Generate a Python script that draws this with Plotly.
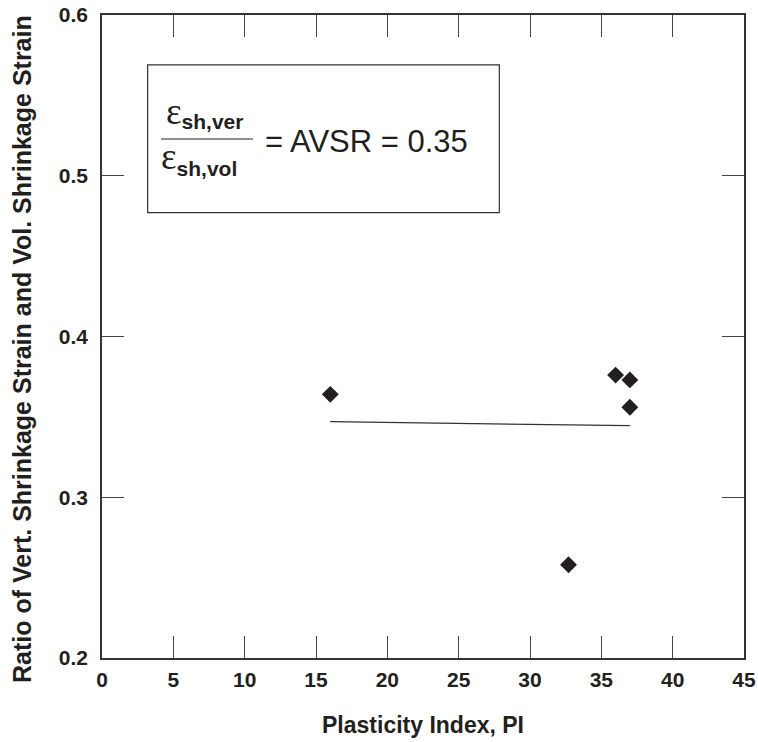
import plotly.graph_objects as go

# Data
pi_values = [16.0, 36.0, 37.0, 37.0, 32.7]
avsr_values = [0.364, 0.376, 0.373, 0.356, 0.258]
fit_x = [16.0, 37.0]
fit_y = [0.347, 0.3445]
x_ticks = [0, 5, 10, 15, 20, 25, 30, 35, 40, 45]
y_ticks = [0.2, 0.3, 0.4, 0.5, 0.6]
x_title = "Plasticity Index, PI"
y_title = "Ratio of Vert. Shrinkage Strain and Vol. Shrinkage Strain"
box_x = [3.2, 27.85]
box_y = [0.477, 0.569]

W, H = 758, 742
ML, MR, MT, MB = 102, 14, 15, 84
PW, PH = W - ML - MR, H - MT - MB


def paper(px, py):
    return (px - ML) / PW, 1 - (py - MT) / PH


SANS = "Liberation Sans, Arial, sans-serif"
DARK = "#231f20"

fig = go.Figure()
fig.add_trace(go.Scatter(x=fit_x, y=fit_y, mode="lines",
                         line=dict(color="#333333", width=1.2), showlegend=False))
fig.add_trace(go.Scatter(x=pi_values, y=avsr_values, mode="markers",
                         marker=dict(symbol="diamond", size=13, color=DARK,
                                     line=dict(width=0)),
                         showlegend=False))

# box around equation
fig.add_shape(type="rect", xref="x", yref="y", x0=box_x[0], x1=box_x[1],
              y0=box_y[0], y1=box_y[1], line=dict(color="#333333", width=1.2),
              fillcolor="white", layer="below")

annos = []


def add_text(text, px, py, size, family, bold=False, xanchor="left", angle=0):
    xp, yp = paper(px, py)
    annos.append(dict(text=text, x=xp, y=yp, xref="paper", yref="paper",
                      xanchor=xanchor, yanchor="middle", showarrow=False,
                      borderpad=0, textangle=angle, align="left",
                      font=dict(size=size, family=family, color=DARK,
                                weight="bold" if bold else "normal")))


EPS = '<span style="font-family:Liberation Serif;font-size:37px">ε</span>'


def sub(s, shift):
    return ('<span style="font-size:21px;font-weight:bold;baseline-shift:-%dpx">%s</span>'
            % (shift, s))


add_text(EPS + sub("sh,ver", 5), 165, 112, 30, SANS)
add_text(EPS + sub("sh,vol", 7), 160, 158, 30, SANS)
add_text("= AVSR = 0.35", 264, 142, 31, SANS)

# y axis title (placed as rotated text to match the original's offset)
add_text(y_title, 22, 349, 25, SANS, bold=True, xanchor="center", angle=-90)

x0p, y0p = paper(161, 139)
x1p, _ = paper(253, 139)
fig.add_shape(type="line", xref="paper", yref="paper", x0=x0p, x1=x1p,
              y0=y0p, y1=y0p, line=dict(color=DARK, width=1.2))

axis_common = dict(showgrid=False, zeroline=False, showline=True, automargin=False,
                   linecolor="#333333", linewidth=1.5, mirror="ticks",
                   ticks="inside", ticklen=22, tickwidth=1.2, tickcolor="#444444",
                   tickfont=dict(family=SANS, size=21, color=DARK, weight="bold"))

fig.update_layout(
    width=W, height=H,
    margin=dict(l=ML, r=MR, t=MT, b=MB, autoexpand=False),
    paper_bgcolor="white", plot_bgcolor="white",
    xaxis=dict(range=[0, 45], tickvals=x_ticks, ticktext=[str(v) for v in x_ticks],
               title=dict(text=x_title, font=dict(family=SANS, size=23, color=DARK,
                                                  weight="bold"), standoff=27),
               ticklabelstandoff=2,
               **axis_common),
    yaxis=dict(range=[0.2, 0.6], tickvals=y_ticks, ticktext=[f"{v:.1f}" for v in y_ticks],
               ticklabelstandoff=8,
               **axis_common),
    annotations=annos,
)

fig.write_html("out.html")
